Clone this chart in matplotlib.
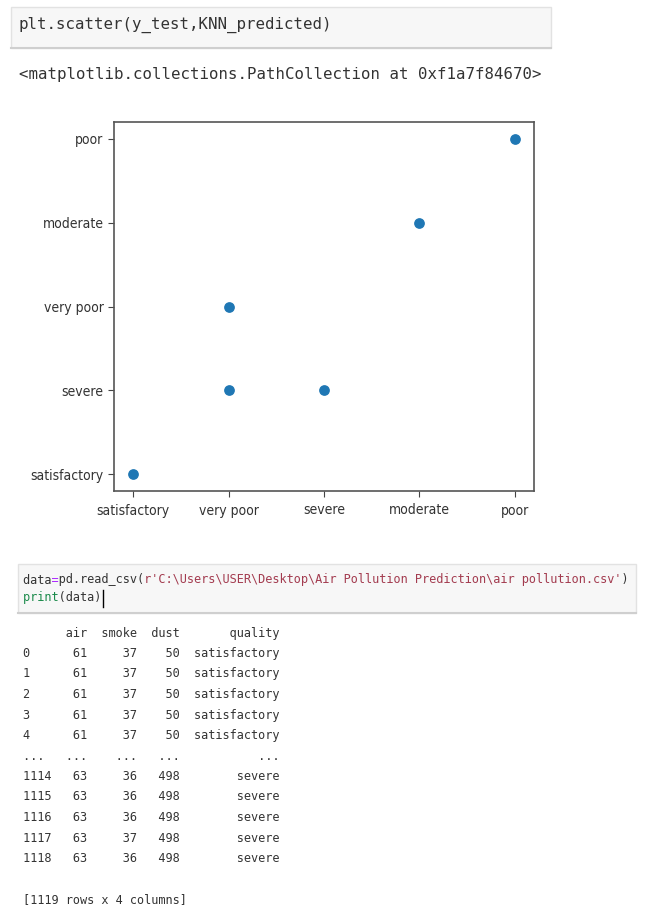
import matplotlib
matplotlib.use("Agg")
import matplotlib.pyplot as plt
from matplotlib.patches import Rectangle

# scatter data: true label vs KNN prediction
y_test = ["satisfactory", "very poor", "very poor", "severe", "moderate", "poor"]
KNN_predicted = ["satisfactory", "severe", "very poor", "severe", "moderate", "poor"]

# the printed dataframe (head and tail)
row_index = ["0", "1", "2", "3", "4", "1114", "1115", "1116", "1117", "1118"]
air = [61, 61, 61, 61, 61, 63, 63, 63, 63, 63]
smoke = [37, 37, 37, 37, 37, 36, 36, 36, 37, 36]
dust = [50, 50, 50, 50, 50, 498, 498, 498, 498, 498]
quality = ["satisfactory"] * 5 + ["severe"] * 5
n_rows, n_cols = 1119, 4

code1 = "plt.scatter(y_test,KNN_predicted)"
out1 = "<matplotlib.collections.PathCollection at 0xf1a7f84670>"
csv_path = "r'C:\\Users\\USER\\Desktop\\Air Pollution Prediction\\air pollution.csv'"

dark = "#333333"
mono = "DejaVu Sans Mono"

fig = plt.figure(figsize=(6.45, 9.15), dpi=100)

# page layer in pixel coordinates
page = fig.add_axes([0, 0, 1, 1])
page.set_xlim(0, 645)
page.set_ylim(915, 0)
page.axis("off")

# first cell
page.add_patch(Rectangle((11, 7), 540, 41, facecolor="#f7f7f7", edgecolor="#e2e2e2", lw=1))
page.plot([11, 551], [48, 48], color="#cfcfcf", lw=1.5)
page.text(19, 25, code1, family=mono, fontsize=11.3, va="center", color=dark)
page.text(19, 75, out1, family=mono, fontsize=11.3, va="center", color=dark)


def colored_line(x, y, parts, fs):
    # monospace: draw each colour as a full line with the other chars blanked
    full = "".join(s for s, _ in parts)
    pos = 0
    for s, c in parts:
        masked = " " * pos + s + " " * (len(full) - pos - len(s))
        page.text(x, y, masked, family=mono, fontsize=fs, va="center", color=c)
        pos += len(s)


# second cell, coloured like the notebook
page.add_patch(Rectangle((18, 564), 618, 49, facecolor="#f7f7f7", edgecolor="#e2e2e2", lw=1))
page.plot([18, 636], [613, 613], color="#cfcfcf", lw=1.5)
fs2 = 8.6
x0 = 23
colored_line(x0, 580, [("data", dark), ("=", "#aa22ff"), ("pd.read_csv(", dark),
                       (csv_path, "#a33b4f"), (")", dark)], fs2)
colored_line(x0, 598, [("print", "#1a8a4a"), ("(data)", dark)], fs2)
cw = fs2 / 72 * 100 * 0.602
page.plot([x0 + 11 * cw + 1, x0 + 11 * cw + 1], [590, 607], color="black", lw=1)

# printed table
lines = [f"{'':<4}  {'air':>3}  {'smoke':>5}  {'dust':>4}  {'quality':>12}"]
for i in range(len(row_index)):
    if i == 5:
        lines.append(f"{'...':<4}  {'...':>3}  {'...':>5}  {'...':>4}  {'...':>12}")
    lines.append(f"{row_index[i]:<4}  {air[i]:>3}  {smoke[i]:>5}  {dust[i]:>4}  {quality[i]:>12}")
lines.append("")
lines.append(f"[{n_rows} rows x {n_cols} columns]")
for i, ln in enumerate(lines):
    page.text(x0, 633 + i * 20.5, ln, family=mono, fontsize=fs2, va="center", color=dark)

# the scatter plot
ax = fig.add_axes([114 / 645, 1 - 491 / 915, 420 / 645, 369 / 915])
ax.scatter(y_test, KNN_predicted, s=45, color="#1f77b4")
for sp in ax.spines.values():
    sp.set_color("#555555")
    sp.set_linewidth(1.2)
ax.tick_params(colors="#444444", labelsize=10, length=4)
ax.tick_params(axis="x", pad=5)
for lab in ax.get_xticklabels() + ax.get_yticklabels():
    lab.set_fontstretch("condensed")
    lab.set_color(dark)

fig.savefig("out.png", dpi=100, facecolor="white")
